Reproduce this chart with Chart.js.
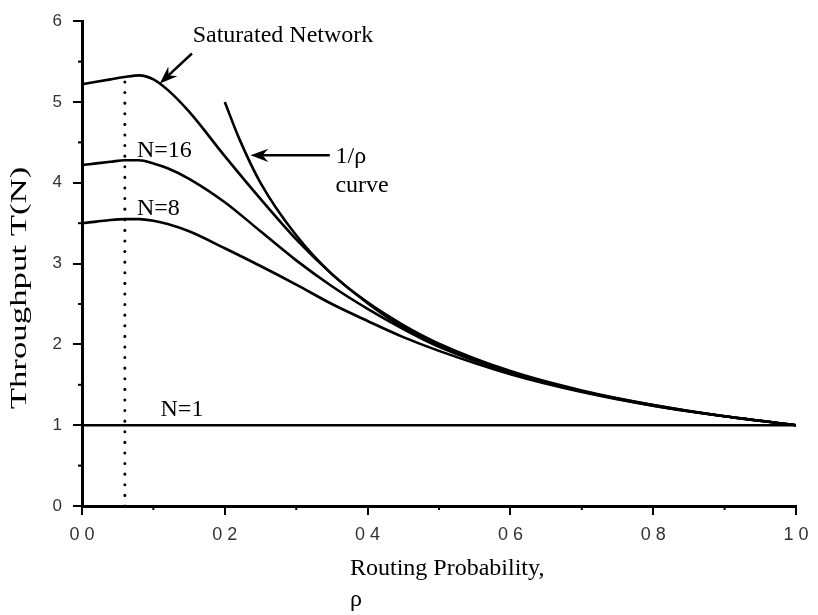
<!DOCTYPE html>
<html>
<head>
<meta charset="utf-8">
<script src="https://cdn.jsdelivr.net/npm/chart.js@4.4.0/dist/chart.umd.min.js"></script>
<style>
  body { margin: 0; background: #fff; }
  canvas { display: block; }
</style>
</head>
<body>
<canvas id="myChart" width="818" height="615"></canvas>
<script>
// routing probability samples
const rho = [0, 0.02, 0.04, 0.06, 0.08, 0.1, 0.12, 0.15, 0.2, 0.25, 0.3, 0.35, 0.4, 0.45, 0.5, 0.6, 0.7, 0.8, 0.9, 1.0];
const saturated = [5.22, 5.25, 5.28, 5.31, 5.33, 5.28, 5.15, 4.88, 4.33, 3.8, 3.3, 2.87, 2.51, 2.21, 1.99, 1.66, 1.42, 1.25, 1.11, 1.0];
const n16 = [4.22, 4.24, 4.26, 4.28, 4.28, 4.24, 4.18, 4.05, 3.76, 3.4, 3.04, 2.72, 2.44, 2.19, 1.97, 1.65, 1.42, 1.24, 1.11, 1.0];
const n8 = [3.5, 3.52, 3.54, 3.55, 3.55, 3.53, 3.49, 3.4, 3.19, 2.97, 2.74, 2.5, 2.29, 2.09, 1.92, 1.63, 1.41, 1.24, 1.11, 1.0];
const n1 = [1, 1, 1, 1, 1, 1, 1, 1, 1, 1, 1, 1, 1, 1, 1, 1, 1, 1, 1, 1];

// 1/rho curve, drawn from rho = 0.2
const invRho = [0.2, 0.22, 0.25, 0.3, 0.35, 0.4, 0.45, 0.5, 0.6, 0.7, 0.8, 0.9, 1.0];
const invVal = [5.0, 4.55, 4.0, 3.35, 2.87, 2.52, 2.24, 2.01, 1.67, 1.43, 1.25, 1.11, 1.0];

// dotted marker at the optimum
const optRho = 0.06;
const optTop = 5.31;

const xTickLabels = ["0 0", "0 2", "0 4", "0 6", "0 8", "1 0"];
const yTickLabels = ["0", "1", "2", "3", "4", "5", "6"];

const pts = (xs, ys) => xs.map((x, i) => ({ x: x, y: ys[i] }));

const serif = "'Liberation Serif', 'Times New Roman', serif";

const line = (data, width) => ({
    data: data,
    borderColor: "#000",
    borderWidth: width,
    pointRadius: 0,
    fill: false,
    cubicInterpolationMode: "monotone",
});

// text + arrows, positioned in data units
const notes = [
    { text: "Saturated Network", x: 0.155, y: 5.74 },
    { text: "N=16", x: 0.077, y: 4.32 },
    { text: "N=8", x: 0.077, y: 3.6 },
    { text: "N=1", x: 0.11, y: 1.12 },
    { text: "1/\u03c1", x: 0.355, y: 4.24 },
    { text: "curve", x: 0.355, y: 3.88 },
];
const arrows = [
    { from: [0.154, 5.6], to: [0.109, 5.23] },
    { from: [0.347, 4.34], to: [0.236, 4.34] },
];

const decor = {
    id: "decor",
    afterDraw(chart) {
        const ctx = chart.ctx;
        const xs = chart.scales.x, ys = chart.scales.y;
        const area = chart.chartArea;
        ctx.save();
        ctx.strokeStyle = "#000";
        ctx.fillStyle = "#000";

        // minor ticks
        ctx.lineWidth = 2;
        [0.1, 0.3, 0.5, 0.7, 0.9].forEach(v => {
            const px = xs.getPixelForValue(v);
            ctx.beginPath();
            ctx.moveTo(px, area.bottom);
            ctx.lineTo(px, area.bottom + 4);
            ctx.stroke();
        });
        [0.5, 1.5, 2.5, 3.5, 4.5, 5.5].forEach(v => {
            const py = ys.getPixelForValue(v);
            ctx.beginPath();
            ctx.moveTo(area.left, py);
            ctx.lineTo(area.left - 4, py);
            ctx.stroke();
        });

        // annotations
        ctx.font = "24px " + serif;
        ctx.textAlign = "left";
        ctx.textBaseline = "alphabetic";
        notes.forEach(n => {
            ctx.fillText(n.text, xs.getPixelForValue(n.x), ys.getPixelForValue(n.y));
        });

        arrows.forEach(a => {
            const x1 = xs.getPixelForValue(a.from[0]), y1 = ys.getPixelForValue(a.from[1]);
            const x2 = xs.getPixelForValue(a.to[0]), y2 = ys.getPixelForValue(a.to[1]);
            const ang = Math.atan2(y2 - y1, x2 - x1);
            const len = 19, half = 0.36;
            ctx.lineWidth = 2.5;
            ctx.beginPath();
            ctx.moveTo(x1, y1);
            ctx.lineTo(x2 - Math.cos(ang) * 10, y2 - Math.sin(ang) * 10);
            ctx.stroke();
            ctx.beginPath();
            ctx.moveTo(x2, y2);
            ctx.lineTo(x2 - len * Math.cos(ang - half), y2 - len * Math.sin(ang - half));
            ctx.lineTo(x2 - 12 * Math.cos(ang), y2 - 12 * Math.sin(ang));
            ctx.lineTo(x2 - len * Math.cos(ang + half), y2 - len * Math.sin(ang + half));
            ctx.closePath();
            ctx.fill();
        });

        // axis titles
        ctx.fillText("Routing Probability,", 350, 575);
        ctx.fillText("\u03c1", 350, 606);
        ctx.translate(26, 288);
        ctx.rotate(-Math.PI / 2);
        ctx.scale(1.45, 1);
        ctx.textAlign = "center";
        ctx.fillText("Throughput T(N)", 0, 0);
        ctx.restore();
    },
};

const tickFont = { family: "'Liberation Sans', Arial, sans-serif", size: 18 };

new Chart(document.getElementById("myChart").getContext("2d"), {
    type: "line",
    data: {
        datasets: [
            line(pts(rho, saturated), 2.6),
            line(pts(rho, n16), 2.6),
            line(pts(rho, n8), 2.6),
            line(pts(rho, n1), 2.4),
            line(pts(invRho, invVal), 2.6),
            {
                data: [{ x: optRho, y: 0 }, { x: optRho, y: optTop }],
                borderColor: "#000",
                borderWidth: 3,
                borderDash: [0.1, 10.5],
                borderCapStyle: "round",
                pointRadius: 0,
                fill: false,
            },
        ],
    },
    options: {
        responsive: false,
        animation: false,
        devicePixelRatio: 1,
        layout: { padding: { top: 14, right: 22, left: 0, bottom: 0 } },
        plugins: { legend: { display: false }, tooltip: { enabled: false } },
        scales: {
            x: {
                type: "linear",
                min: 0,
                max: 1,
                afterFit: s => { s.height = 109; },
                border: { color: "#000", width: 3 },
                grid: { drawOnChartArea: false, color: "#000", tickLength: 9, lineWidth: 2 },
                ticks: {
                    stepSize: 0.2,
                    color: "#333",
                    font: tickFont,
                    padding: 9,
                    maxRotation: 0,
                    callback: (v) => xTickLabels[Math.round(v * 5)],
                },
            },
            y: {
                min: 0,
                max: 6,
                afterFit: s => { s.width = 82; },
                border: { color: "#000", width: 3 },
                grid: { drawOnChartArea: false, color: "#000", tickLength: 9, lineWidth: 2 },
                ticks: {
                    stepSize: 1,
                    color: "#333",
                    font: { family: "'Liberation Sans', Arial, sans-serif", size: 17 },
                    padding: 11,
                    callback: (v) => yTickLabels[v],
                },
            },
        },
    },
    plugins: [decor],
});
</script>
</body>
</html>
